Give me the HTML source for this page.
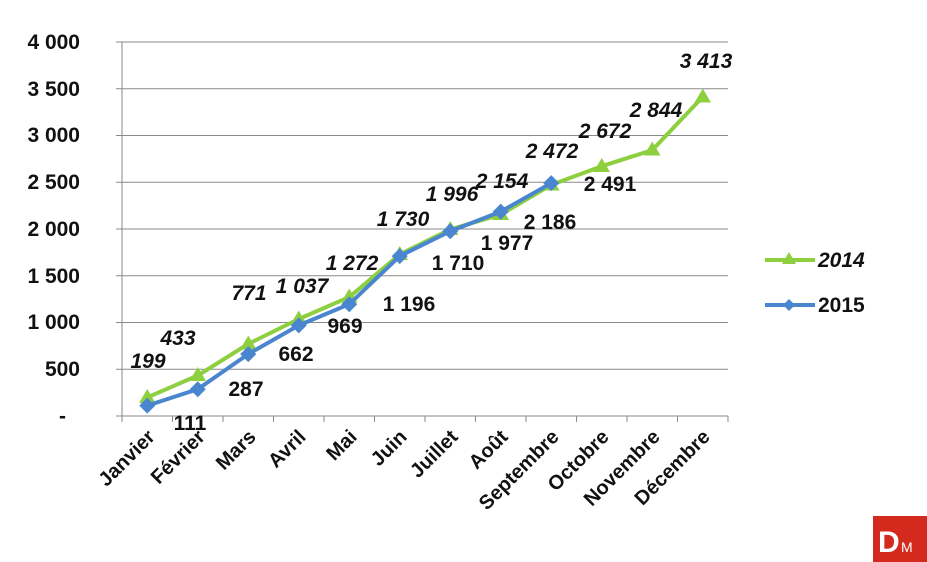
<!DOCTYPE html>
<html><head><style>
html,body{margin:0;padding:0;background:#fff;}
svg{display:block;}
text{font-family:"Liberation Sans",Arial,sans-serif;fill:#111;}
</style></head><body>
<svg width="927" height="562" viewBox="0 0 927 562" xmlns="http://www.w3.org/2000/svg">
<g stroke="#8a8a8a" stroke-width="1">
<line x1="116" y1="42" x2="728" y2="42"/>
<line x1="116" y1="88.75" x2="728" y2="88.75"/>
<line x1="116" y1="135.5" x2="728" y2="135.5"/>
<line x1="116" y1="182.25" x2="728" y2="182.25"/>
<line x1="116" y1="229" x2="728" y2="229"/>
<line x1="116" y1="275.75" x2="728" y2="275.75"/>
<line x1="116" y1="322.5" x2="728" y2="322.5"/>
<line x1="116" y1="369.25" x2="728" y2="369.25"/>
<line x1="116" y1="416" x2="728" y2="416"/>
<line x1="122" y1="42" x2="122" y2="422"/>
<line x1="172.5" y1="416" x2="172.5" y2="422"/><line x1="223" y1="416" x2="223" y2="422"/><line x1="273.5" y1="416" x2="273.5" y2="422"/><line x1="324" y1="416" x2="324" y2="422"/><line x1="374.5" y1="416" x2="374.5" y2="422"/><line x1="425" y1="416" x2="425" y2="422"/><line x1="475.5" y1="416" x2="475.5" y2="422"/><line x1="526" y1="416" x2="526" y2="422"/><line x1="576.5" y1="416" x2="576.5" y2="422"/><line x1="627" y1="416" x2="627" y2="422"/><line x1="677.5" y1="416" x2="677.5" y2="422"/><line x1="728" y1="416" x2="728" y2="422"/>
</g>
<g font-size="21" font-weight="bold" text-anchor="end">
<text x="80" y="49">4 000</text><text x="80" y="96">3 500</text><text x="80" y="142">3 000</text><text x="80" y="189">2 500</text><text x="80" y="236">2 000</text><text x="80" y="283">1 500</text><text x="80" y="329">1 000</text><text x="80" y="376">500</text><text x="66" y="423">-</text>
</g>
<g font-size="20" font-weight="bold" text-anchor="end">
<text transform="translate(156,438) rotate(-45)">Janvier</text>
<text transform="translate(206,438) rotate(-45)">Février</text>
<text transform="translate(257,438) rotate(-45)">Mars</text>
<text transform="translate(307,438) rotate(-45)">Avril</text>
<text transform="translate(358,438) rotate(-45)">Mai</text>
<text transform="translate(408,438) rotate(-45)">Juin</text>
<text transform="translate(459,438) rotate(-45)">Juillet</text>
<text transform="translate(509,438) rotate(-45)">Août</text>
<text transform="translate(560,438) rotate(-45)">Septembre</text>
<text transform="translate(610,438) rotate(-45)">Octobre</text>
<text transform="translate(661,438) rotate(-45)">Novembre</text>
<text transform="translate(711,438) rotate(-45)">Décembre</text>
</g>
<polyline fill="none" stroke="#8dcf3f" stroke-width="4" stroke-linejoin="round" points="147.25,397.4 197.75,375.5 248.25,343.9 298.75,319.0 349.25,297.1 399.75,254.3 450.25,229.4 500.75,214.6 551.25,184.9 601.75,166.2 652.25,150.1 702.75,96.9"/>
<g fill="#8dcf3f">
<polygon points="147.25,389 139,403 155.5,403"/><polygon points="197.75,367 189.5,381 206,381"/><polygon points="248.25,335.5 240,349.5 256.5,349.5"/><polygon points="298.75,310.5 290.5,324.5 307,324.5"/><polygon points="349.25,288.5 341,302.5 357.5,302.5"/><polygon points="399.75,246 391.5,260 408,260"/><polygon points="450.25,221 442,235 458.5,235"/><polygon points="500.75,206 492.5,220 509,220"/><polygon points="551.25,176.5 543,190.5 559.5,190.5"/><polygon points="601.75,158 593.5,172 610,172"/><polygon points="652.25,141.5 644,155.5 660.5,155.5"/><polygon points="702.75,88.5 694.5,102.5 711,102.5"/>
</g>
<polyline fill="none" stroke="#4a86d0" stroke-width="4" stroke-linejoin="round" points="147.25,405.6 197.75,389.2 248.25,354.1 298.75,325.4 349.25,304.2 399.75,256.1 450.25,231.2 500.75,211.6 551.25,183.1"/>
<g fill="#4a86d0">
<polygon points="147.25,397.6 155.25,405.6 147.25,413.6 139.25,405.6"/><polygon points="197.75,381.2 205.75,389.2 197.75,397.2 189.75,389.2"/><polygon points="248.25,346.1 256.25,354.1 248.25,362.1 240.25,354.1"/><polygon points="298.75,317.4 306.75,325.4 298.75,333.4 290.75,325.4"/><polygon points="349.25,296.2 357.25,304.2 349.25,312.2 341.25,304.2"/><polygon points="399.75,248.1 407.75,256.1 399.75,264.1 391.75,256.1"/><polygon points="450.25,223.2 458.25,231.2 450.25,239.2 442.25,231.2"/><polygon points="500.75,203.6 508.75,211.6 500.75,219.6 492.75,211.6"/><polygon points="551.25,175.1 559.25,183.1 551.25,191.1 543.25,183.1"/>
</g>
<g font-size="21" font-weight="bold" font-style="italic" text-anchor="middle">
<text x="148" y="368">199</text><text x="178" y="345">433</text><text x="249" y="300">771</text><text x="302" y="293">1 037</text><text x="352" y="270">1 272</text><text x="403" y="226">1 730</text><text x="452" y="201">1 996</text><text x="502" y="188">2 154</text><text x="552" y="158">2 472</text><text x="605" y="138">2 672</text><text x="656" y="117">2 844</text><text x="706" y="68">3 413</text>
</g>
<g font-size="21" text-anchor="middle" font-weight="bold">
<text x="190" y="430">111</text><text x="246" y="396">287</text><text x="296" y="361">662</text><text x="345" y="333">969</text><text x="409" y="311">1 196</text><text x="458" y="270">1 710</text><text x="507" y="250">1 977</text><text x="550" y="229">2 186</text><text x="610" y="191">2 491</text>
</g>
<line x1="765" y1="260" x2="815" y2="260" stroke="#8dcf3f" stroke-width="4"/>
<polygon points="789,252 782,264 796,264" fill="#8dcf3f"/>
<text x="818" y="267" font-size="21" font-weight="bold" font-style="italic">2014</text>
<line x1="765" y1="305" x2="815" y2="305" stroke="#4a86d0" stroke-width="4"/>
<polygon points="789,299 795,305 789,311 783,305" fill="#4a86d0"/>
<text x="818" y="312" font-size="21" font-weight="bold">2015</text>
<rect x="873" y="516" width="54" height="46" fill="#d42a1e"/>
<text x="878" y="552" font-family="Liberation Serif,serif" font-size="30" font-weight="bold" style="fill:#fff">D</text>
<text x="901" y="552" font-family="Liberation Serif,serif" font-size="14" style="fill:#fff">M</text>
</svg>
</body></html>
